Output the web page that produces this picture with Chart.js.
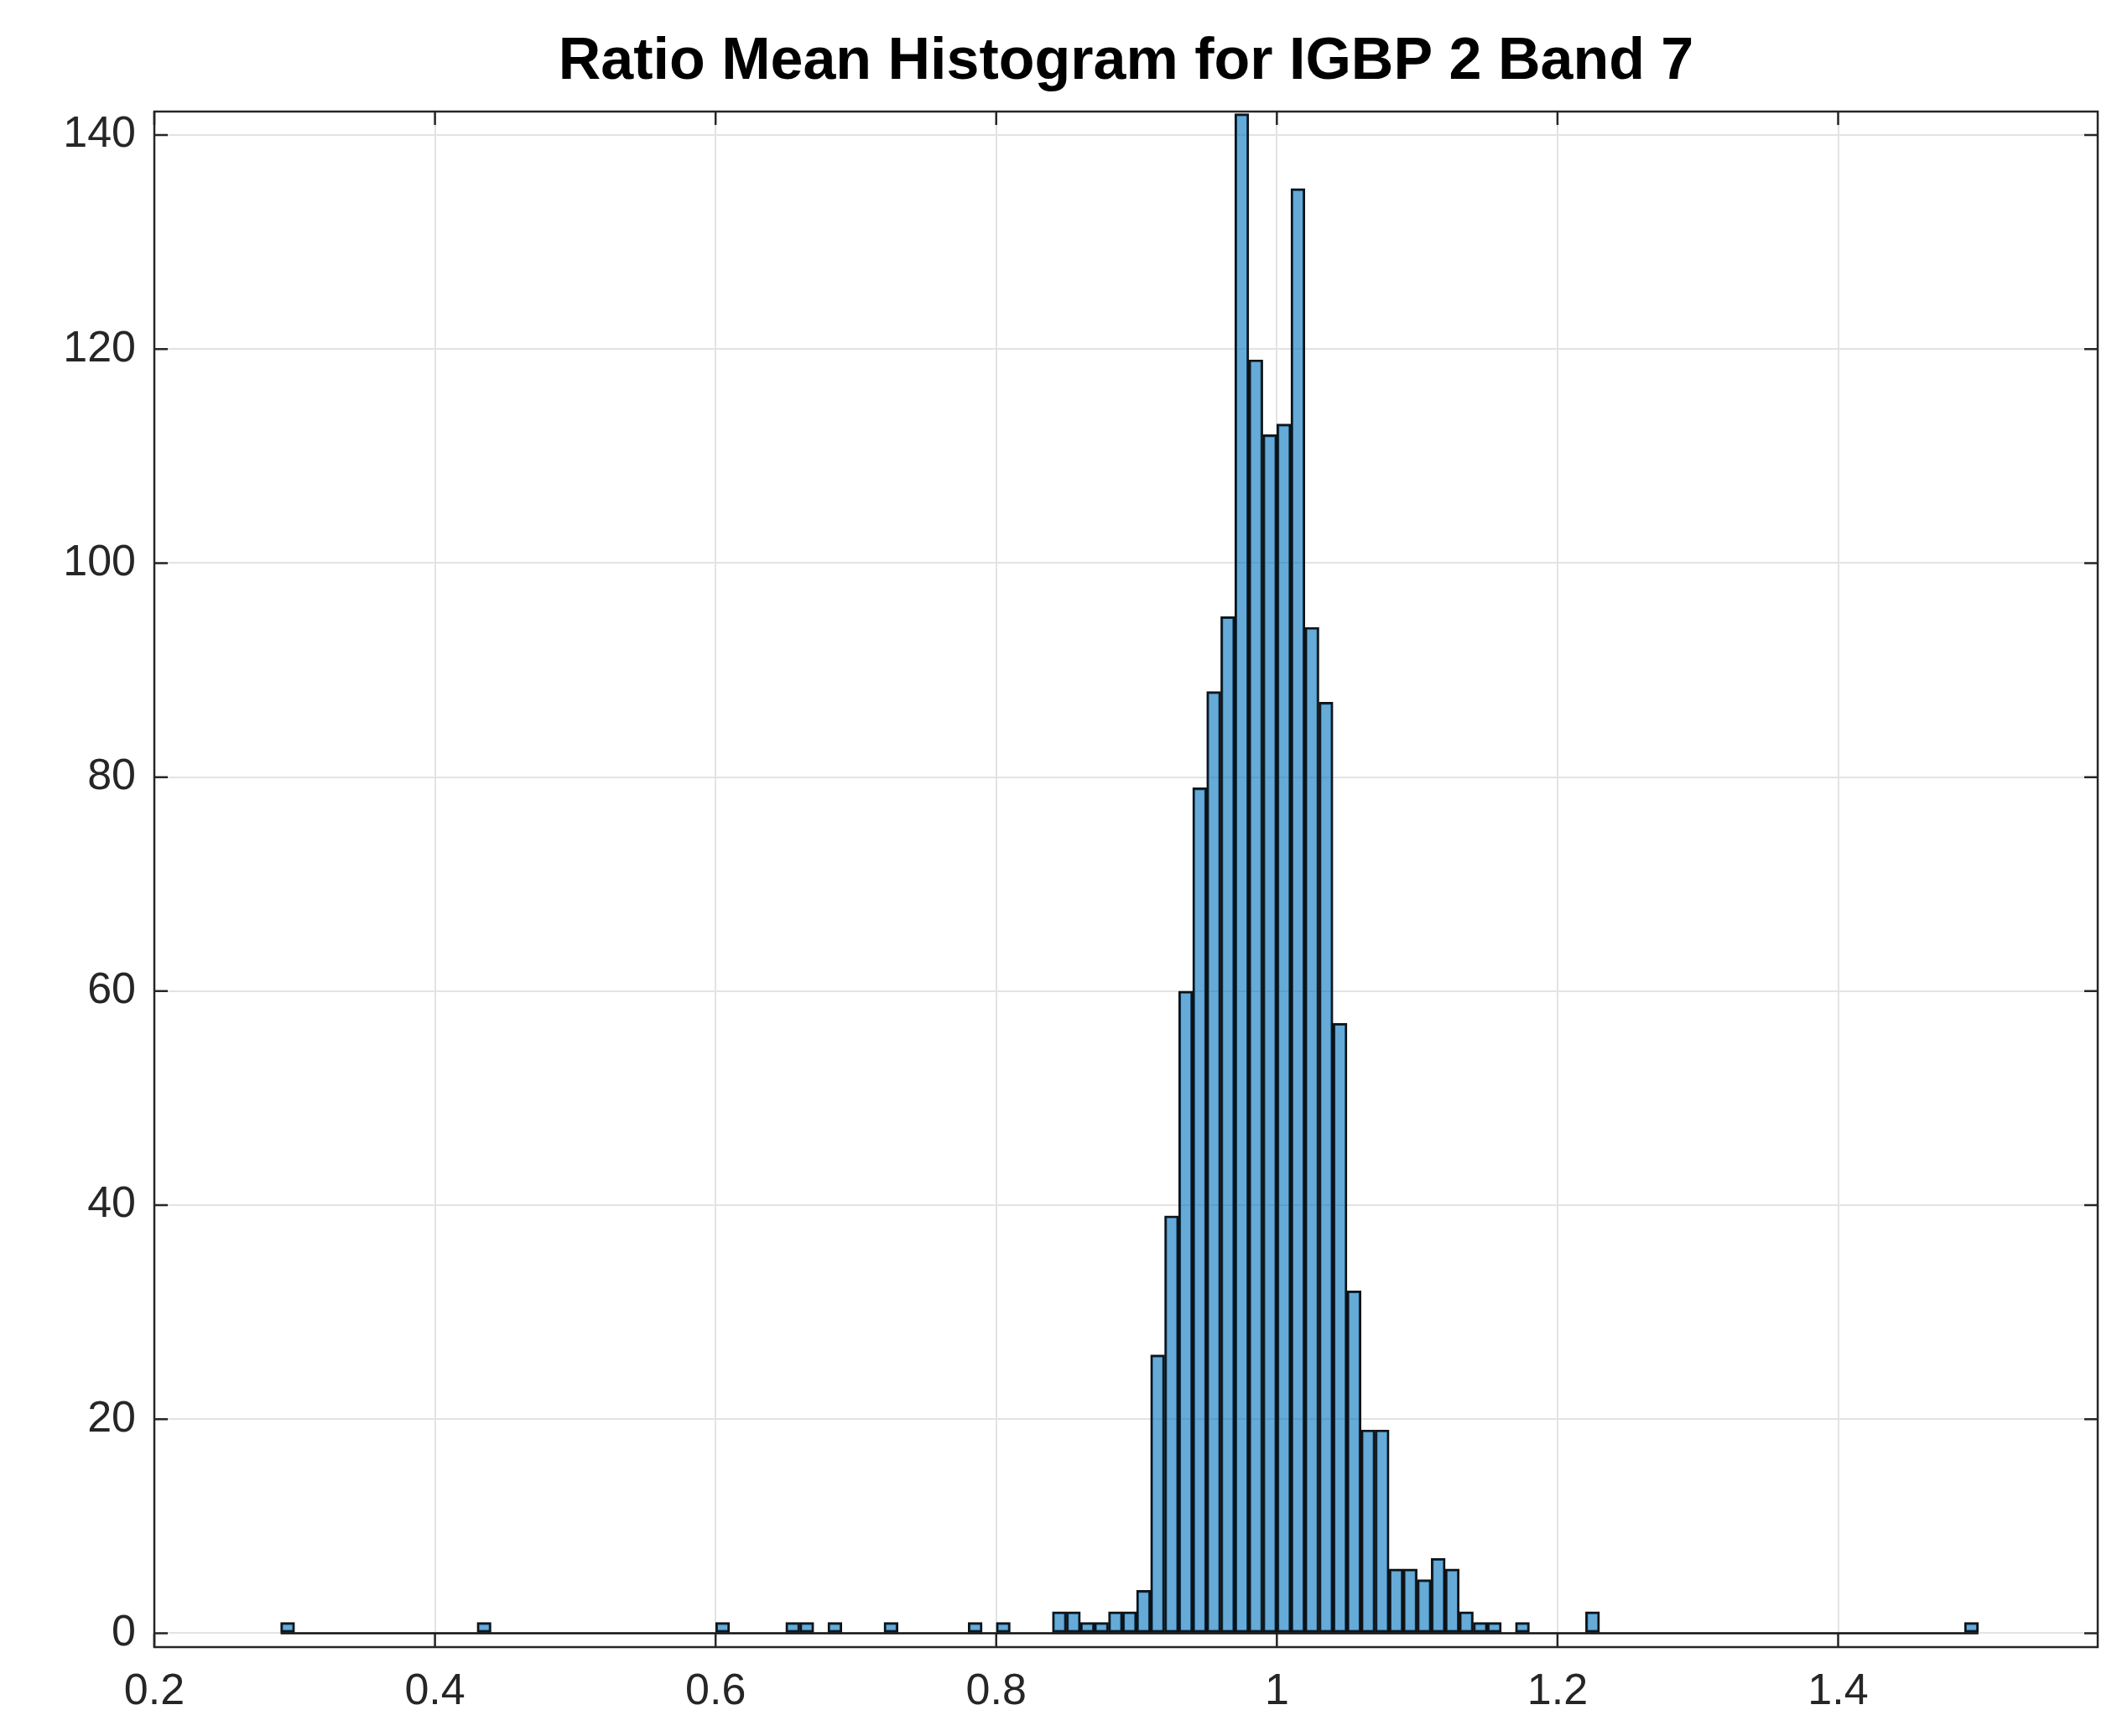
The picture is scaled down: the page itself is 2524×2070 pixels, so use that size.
<!DOCTYPE html>
<html>
<head>
<meta charset="utf-8">
<script src="https://cdn.jsdelivr.net/npm/chart.js@4"></script>
<style>
  body { margin: 0; background: #fff; }
  #wrap { width: 2524px; height: 2070px; }
</style>
</head>
<body>
<div id="wrap"><canvas id="hist"></canvas></div>
<script>
// Histogram data: bins of 0.01 from 0.29 to 1.50
const binStart = 0.29;
const binWidth = 0.01;
const counts = [
  1, 0, 0, 0, 0, 0, 0, 0, 0, 0,   // 0.29 - 0.38
  0, 0, 0, 0, 1, 0, 0, 0, 0, 0,   // 0.39 - 0.48
  0, 0, 0, 0, 0, 0, 0, 0, 0, 0,   // 0.49 - 0.58
  0, 1, 0, 0, 0, 0, 1, 1, 0, 1,   // 0.59 - 0.68
  0, 0, 0, 1, 0, 0, 0, 0, 0, 1,   // 0.69 - 0.78
  0, 1, 0, 0, 0, 2, 2, 1, 1, 2,   // 0.79 - 0.88
  2, 4, 26, 39, 60, 79, 88, 95, 142, 119, // 0.89 - 0.98
  112, 113, 135, 94, 87, 57, 32, 19, 19, 6, // 0.99 - 1.08
  6, 5, 7, 6, 2, 1, 1, 0, 1, 0,   // 1.09 - 1.18
  0, 0, 0, 2, 0, 0, 0, 0, 0, 0,   // 1.19 - 1.28
  0, 0, 0, 0, 0, 0, 0, 0, 0, 0,   // 1.29 - 1.38
  0, 0, 0, 0, 0, 0, 0, 0, 0, 0,   // 1.39 - 1.48
  1                               // 1.49
];
const xTicks = [0.2, 0.4, 0.6, 0.8, 1, 1.2, 1.4];
const yTicks = [0, 20, 40, 60, 80, 100, 120, 140];
const titleText = 'Ratio Mean Histogram for IGBP 2 Band 7';

const points = counts.map((c, i) => ({ x: binStart + binWidth * (i + 0.5), y: c }));

// Box around plot, inward ticks, baseline of the histogram, and the title
const boxPlugin = {
  id: 'box',
  afterDatasetsDraw(chart) {
    const { ctx, scales } = chart;
    const y0 = scales.y.getPixelForValue(0);
    ctx.save();
    ctx.strokeStyle = '#111';
    ctx.lineWidth = 2.5;
    ctx.beginPath();
    ctx.moveTo(scales.x.getPixelForValue(binStart), y0);
    ctx.lineTo(scales.x.getPixelForValue(binStart + binWidth * counts.length), y0);
    ctx.stroke();
    ctx.restore();
  },
  afterDraw(chart) {
    const { ctx, chartArea: a, scales } = chart;
    ctx.save();
    ctx.strokeStyle = '#262626';
    ctx.lineWidth = 2.5;
    ctx.strokeRect(a.left, a.top, a.right - a.left, a.bottom - a.top);
    ctx.beginPath();
    xTicks.forEach(v => {
      const px = scales.x.getPixelForValue(v);
      ctx.moveTo(px, a.bottom); ctx.lineTo(px, a.bottom - 16);
      ctx.moveTo(px, a.top); ctx.lineTo(px, a.top + 16);
    });
    yTicks.forEach(v => {
      const py = scales.y.getPixelForValue(v);
      ctx.moveTo(a.left, py); ctx.lineTo(a.left + 16, py);
      ctx.moveTo(a.right, py); ctx.lineTo(a.right - 16, py);
    });
    ctx.stroke();
    ctx.fillStyle = '#000';
    ctx.font = 'bold 70px "Liberation Sans", Arial, sans-serif';
    ctx.textAlign = 'center';
    ctx.textBaseline = 'middle';
    ctx.fillText(titleText, (a.left + a.right) / 2, 75);
    ctx.restore();
  }
};

new Chart(document.getElementById('hist'), {
  type: 'bar',
  data: {
    datasets: [{
      data: points,
      backgroundColor: 'rgba(0, 114, 189, 0.6)',
      borderColor: '#111',
      borderWidth: 2.5,
      borderSkipped: false,
      barPercentage: 1,
      categoryPercentage: 1
    }]
  },
  options: {
    responsive: true,
    maintainAspectRatio: false,
    animation: false,
    layout: { padding: { top: 133, right: 23, left: 0, bottom: 0 } },
    plugins: { legend: { display: false }, tooltip: { enabled: false } },
    scales: {
      x: {
        type: 'linear',
        offset: false,
        min: 0.2,
        max: 1.585,
        afterBuildTicks: s => { s.ticks = xTicks.map(v => ({ value: v })); },
        afterFit: s => { s.height = 106; },
        ticks: {
          color: '#262626',
          font: { size: 52, family: '"Liberation Sans", Arial, sans-serif' },
          padding: 22,
          maxRotation: 0,
          callback: v => String(v)
        },
        grid: { color: '#e3e3e3', lineWidth: 2, drawTicks: false, offset: false },
        border: { display: false }
      },
      y: {
        min: -1.3,
        max: 142.2,
        afterBuildTicks: s => { s.ticks = yTicks.map(v => ({ value: v })); },
        afterFit: s => { s.width = 184; },
        ticks: {
          color: '#262626',
          font: { size: 52, family: '"Liberation Sans", Arial, sans-serif' },
          padding: 22
        },
        grid: { color: '#e3e3e3', lineWidth: 2, drawTicks: false },
        border: { display: false }
      }
    }
  },
  plugins: [boxPlugin]
});
</script>
</body>
</html>
